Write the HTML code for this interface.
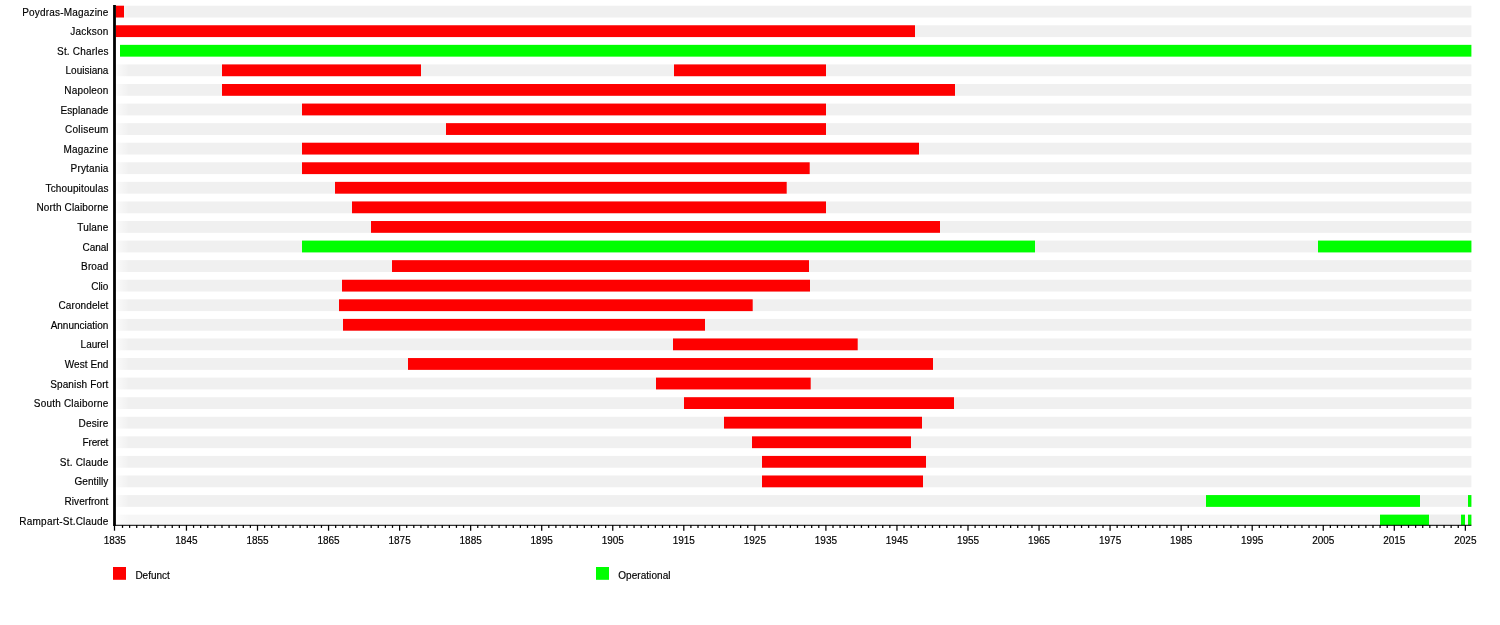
<!DOCTYPE html>
<html lang="en"><head><meta charset="utf-8"><title>New Orleans streetcar lines timeline</title>
<style>html,body{margin:0;padding:0;background:#fff}body{width:1500px;height:625px;overflow:hidden}svg{display:block}text{font-family:"Liberation Sans",Arial,Helvetica,sans-serif;font-size:10px;fill:#000;stroke:#000;stroke-width:0.16px}.l{text-anchor:end}.t{text-anchor:middle}</style></head><body>
<svg width="1500" height="625" viewBox="0 0 1500 625">
<rect width="1500" height="625" fill="#fff"/>
<g fill="#f0f0f0">
<rect x="115" y="5.70" width="1356.4" height="11.8"/>
<rect x="115" y="25.27" width="1356.4" height="11.8"/>
<rect x="115" y="64.42" width="1356.4" height="11.8"/>
<rect x="115" y="84.00" width="1356.4" height="11.8"/>
<rect x="115" y="103.58" width="1356.4" height="11.8"/>
<rect x="115" y="123.15" width="1356.4" height="11.8"/>
<rect x="115" y="142.72" width="1356.4" height="11.8"/>
<rect x="115" y="162.30" width="1356.4" height="11.8"/>
<rect x="115" y="181.87" width="1356.4" height="11.8"/>
<rect x="115" y="201.45" width="1356.4" height="11.8"/>
<rect x="115" y="221.02" width="1356.4" height="11.8"/>
<rect x="115" y="240.60" width="1356.4" height="11.8"/>
<rect x="115" y="260.18" width="1356.4" height="11.8"/>
<rect x="115" y="279.75" width="1356.4" height="11.8"/>
<rect x="115" y="299.32" width="1356.4" height="11.8"/>
<rect x="115" y="318.90" width="1356.4" height="11.8"/>
<rect x="115" y="338.47" width="1356.4" height="11.8"/>
<rect x="115" y="358.05" width="1356.4" height="11.8"/>
<rect x="115" y="377.62" width="1356.4" height="11.8"/>
<rect x="115" y="397.20" width="1356.4" height="11.8"/>
<rect x="115" y="416.77" width="1356.4" height="11.8"/>
<rect x="115" y="436.35" width="1356.4" height="11.8"/>
<rect x="115" y="455.92" width="1356.4" height="11.8"/>
<rect x="115" y="475.50" width="1356.4" height="11.8"/>
<rect x="115" y="495.07" width="1356.4" height="11.8"/>
<rect x="115" y="514.65" width="1356.4" height="10.65" fill="#f6f6f6"/>
</g>
<defs><linearGradient id="fade" x1="0" y1="0" x2="1" y2="0"><stop offset="0" stop-color="#fff" stop-opacity="0.85"/><stop offset="0.35" stop-color="#fff" stop-opacity="0.45"/><stop offset="1" stop-color="#fff" stop-opacity="0"/></linearGradient></defs>
<rect x="115.9" y="0" width="13" height="524.8" fill="url(#fade)"/>
<rect x="1429" y="514.65" width="32" height="10.65" fill="#eeeeee"/>
<rect x="115.8" y="5.70" width="8.2" height="11.8" fill="#fe0000"/>
<rect x="115.8" y="25.27" width="799.2" height="11.8" fill="#fe0000"/>
<rect x="120" y="44.85" width="1351.4" height="11.8" fill="#00fe00"/>
<rect x="222" y="64.42" width="199" height="11.8" fill="#fe0000"/>
<rect x="674" y="64.42" width="152" height="11.8" fill="#fe0000"/>
<rect x="222" y="84.00" width="733" height="11.8" fill="#fe0000"/>
<rect x="302" y="103.58" width="524" height="11.8" fill="#fe0000"/>
<rect x="446" y="123.15" width="380" height="11.8" fill="#fe0000"/>
<rect x="302" y="142.72" width="617" height="11.8" fill="#fe0000"/>
<rect x="302" y="162.30" width="507.7" height="11.8" fill="#fe0000"/>
<rect x="335" y="181.87" width="451.7" height="11.8" fill="#fe0000"/>
<rect x="352" y="201.45" width="474" height="11.8" fill="#fe0000"/>
<rect x="371" y="221.02" width="569" height="11.8" fill="#fe0000"/>
<rect x="302" y="240.60" width="733" height="11.8" fill="#00fe00"/>
<rect x="1318" y="240.60" width="153.4" height="11.8" fill="#00fe00"/>
<rect x="392" y="260.18" width="417" height="11.8" fill="#fe0000"/>
<rect x="342" y="279.75" width="468" height="11.8" fill="#fe0000"/>
<rect x="339" y="299.32" width="413.7" height="11.8" fill="#fe0000"/>
<rect x="343" y="318.90" width="362" height="11.8" fill="#fe0000"/>
<rect x="673" y="338.47" width="184.7" height="11.8" fill="#fe0000"/>
<rect x="408" y="358.05" width="525" height="11.8" fill="#fe0000"/>
<rect x="656" y="377.62" width="154.7" height="11.8" fill="#fe0000"/>
<rect x="684" y="397.20" width="270" height="11.8" fill="#fe0000"/>
<rect x="724" y="416.77" width="198" height="11.8" fill="#fe0000"/>
<rect x="752" y="436.35" width="159" height="11.8" fill="#fe0000"/>
<rect x="762" y="455.92" width="164" height="11.8" fill="#fe0000"/>
<rect x="762" y="475.50" width="161" height="11.8" fill="#fe0000"/>
<rect x="1206" y="495.07" width="214" height="11.8" fill="#00fe00"/>
<rect x="1468" y="495.07" width="3.4" height="11.8" fill="#00fe00"/>
<rect x="1380" y="514.65" width="49" height="10.65" fill="#00fe00"/>
<rect x="1461" y="514.65" width="4" height="10.65" fill="#00fe00"/>
<rect x="1468" y="514.65" width="3.4" height="10.65" fill="#00fe00"/>
<rect x="113.1" y="5" width="2.8" height="520.8" fill="#000"/>
<rect x="113.2" y="524.8" width="1358.2" height="1" fill="#000"/>
<g stroke="#000" stroke-width="1.25">
<line x1="114.50" y1="525" x2="114.50" y2="530.70"/>
<line x1="122.51" y1="525" x2="122.51" y2="527.90"/>
<line x1="129.61" y1="525" x2="129.61" y2="527.90"/>
<line x1="136.72" y1="525" x2="136.72" y2="527.90"/>
<line x1="143.82" y1="525" x2="143.82" y2="527.90"/>
<line x1="150.93" y1="525" x2="150.93" y2="527.90"/>
<line x1="158.03" y1="525" x2="158.03" y2="527.90"/>
<line x1="165.13" y1="525" x2="165.13" y2="527.90"/>
<line x1="172.24" y1="525" x2="172.24" y2="527.90"/>
<line x1="179.35" y1="525" x2="179.35" y2="527.90"/>
<line x1="186.45" y1="525" x2="186.45" y2="530.70"/>
<line x1="193.56" y1="525" x2="193.56" y2="527.90"/>
<line x1="200.66" y1="525" x2="200.66" y2="527.90"/>
<line x1="207.77" y1="525" x2="207.77" y2="527.90"/>
<line x1="214.87" y1="525" x2="214.87" y2="527.90"/>
<line x1="221.98" y1="525" x2="221.98" y2="527.90"/>
<line x1="229.08" y1="525" x2="229.08" y2="527.90"/>
<line x1="236.19" y1="525" x2="236.19" y2="527.90"/>
<line x1="243.29" y1="525" x2="243.29" y2="527.90"/>
<line x1="250.40" y1="525" x2="250.40" y2="527.90"/>
<line x1="257.50" y1="525" x2="257.50" y2="530.70"/>
<line x1="264.61" y1="525" x2="264.61" y2="527.90"/>
<line x1="271.71" y1="525" x2="271.71" y2="527.90"/>
<line x1="278.82" y1="525" x2="278.82" y2="527.90"/>
<line x1="285.92" y1="525" x2="285.92" y2="527.90"/>
<line x1="293.02" y1="525" x2="293.02" y2="527.90"/>
<line x1="300.13" y1="525" x2="300.13" y2="527.90"/>
<line x1="307.24" y1="525" x2="307.24" y2="527.90"/>
<line x1="314.34" y1="525" x2="314.34" y2="527.90"/>
<line x1="321.45" y1="525" x2="321.45" y2="527.90"/>
<line x1="328.55" y1="525" x2="328.55" y2="530.70"/>
<line x1="335.66" y1="525" x2="335.66" y2="527.90"/>
<line x1="342.76" y1="525" x2="342.76" y2="527.90"/>
<line x1="349.87" y1="525" x2="349.87" y2="527.90"/>
<line x1="356.97" y1="525" x2="356.97" y2="527.90"/>
<line x1="364.08" y1="525" x2="364.08" y2="527.90"/>
<line x1="371.18" y1="525" x2="371.18" y2="527.90"/>
<line x1="378.28" y1="525" x2="378.28" y2="527.90"/>
<line x1="385.39" y1="525" x2="385.39" y2="527.90"/>
<line x1="392.50" y1="525" x2="392.50" y2="527.90"/>
<line x1="399.60" y1="525" x2="399.60" y2="530.70"/>
<line x1="406.71" y1="525" x2="406.71" y2="527.90"/>
<line x1="413.81" y1="525" x2="413.81" y2="527.90"/>
<line x1="420.92" y1="525" x2="420.92" y2="527.90"/>
<line x1="428.02" y1="525" x2="428.02" y2="527.90"/>
<line x1="435.12" y1="525" x2="435.12" y2="527.90"/>
<line x1="442.23" y1="525" x2="442.23" y2="527.90"/>
<line x1="449.34" y1="525" x2="449.34" y2="527.90"/>
<line x1="456.44" y1="525" x2="456.44" y2="527.90"/>
<line x1="463.55" y1="525" x2="463.55" y2="527.90"/>
<line x1="470.65" y1="525" x2="470.65" y2="530.70"/>
<line x1="477.75" y1="525" x2="477.75" y2="527.90"/>
<line x1="484.86" y1="525" x2="484.86" y2="527.90"/>
<line x1="491.97" y1="525" x2="491.97" y2="527.90"/>
<line x1="499.07" y1="525" x2="499.07" y2="527.90"/>
<line x1="506.18" y1="525" x2="506.18" y2="527.90"/>
<line x1="513.28" y1="525" x2="513.28" y2="527.90"/>
<line x1="520.38" y1="525" x2="520.38" y2="527.90"/>
<line x1="527.49" y1="525" x2="527.49" y2="527.90"/>
<line x1="534.60" y1="525" x2="534.60" y2="527.90"/>
<line x1="541.70" y1="525" x2="541.70" y2="530.70"/>
<line x1="548.81" y1="525" x2="548.81" y2="527.90"/>
<line x1="555.91" y1="525" x2="555.91" y2="527.90"/>
<line x1="563.01" y1="525" x2="563.01" y2="527.90"/>
<line x1="570.12" y1="525" x2="570.12" y2="527.90"/>
<line x1="577.23" y1="525" x2="577.23" y2="527.90"/>
<line x1="584.33" y1="525" x2="584.33" y2="527.90"/>
<line x1="591.44" y1="525" x2="591.44" y2="527.90"/>
<line x1="598.54" y1="525" x2="598.54" y2="527.90"/>
<line x1="605.64" y1="525" x2="605.64" y2="527.90"/>
<line x1="612.75" y1="525" x2="612.75" y2="530.70"/>
<line x1="619.86" y1="525" x2="619.86" y2="527.90"/>
<line x1="626.96" y1="525" x2="626.96" y2="527.90"/>
<line x1="634.07" y1="525" x2="634.07" y2="527.90"/>
<line x1="641.17" y1="525" x2="641.17" y2="527.90"/>
<line x1="648.27" y1="525" x2="648.27" y2="527.90"/>
<line x1="655.38" y1="525" x2="655.38" y2="527.90"/>
<line x1="662.49" y1="525" x2="662.49" y2="527.90"/>
<line x1="669.59" y1="525" x2="669.59" y2="527.90"/>
<line x1="676.70" y1="525" x2="676.70" y2="527.90"/>
<line x1="683.80" y1="525" x2="683.80" y2="530.70"/>
<line x1="690.90" y1="525" x2="690.90" y2="527.90"/>
<line x1="698.01" y1="525" x2="698.01" y2="527.90"/>
<line x1="705.12" y1="525" x2="705.12" y2="527.90"/>
<line x1="712.22" y1="525" x2="712.22" y2="527.90"/>
<line x1="719.33" y1="525" x2="719.33" y2="527.90"/>
<line x1="726.43" y1="525" x2="726.43" y2="527.90"/>
<line x1="733.53" y1="525" x2="733.53" y2="527.90"/>
<line x1="740.64" y1="525" x2="740.64" y2="527.90"/>
<line x1="747.75" y1="525" x2="747.75" y2="527.90"/>
<line x1="754.85" y1="525" x2="754.85" y2="530.70"/>
<line x1="761.96" y1="525" x2="761.96" y2="527.90"/>
<line x1="769.06" y1="525" x2="769.06" y2="527.90"/>
<line x1="776.16" y1="525" x2="776.16" y2="527.90"/>
<line x1="783.27" y1="525" x2="783.27" y2="527.90"/>
<line x1="790.38" y1="525" x2="790.38" y2="527.90"/>
<line x1="797.48" y1="525" x2="797.48" y2="527.90"/>
<line x1="804.59" y1="525" x2="804.59" y2="527.90"/>
<line x1="811.69" y1="525" x2="811.69" y2="527.90"/>
<line x1="818.80" y1="525" x2="818.80" y2="527.90"/>
<line x1="825.90" y1="525" x2="825.90" y2="530.70"/>
<line x1="833.00" y1="525" x2="833.00" y2="527.90"/>
<line x1="840.11" y1="525" x2="840.11" y2="527.90"/>
<line x1="847.22" y1="525" x2="847.22" y2="527.90"/>
<line x1="854.32" y1="525" x2="854.32" y2="527.90"/>
<line x1="861.43" y1="525" x2="861.43" y2="527.90"/>
<line x1="868.53" y1="525" x2="868.53" y2="527.90"/>
<line x1="875.63" y1="525" x2="875.63" y2="527.90"/>
<line x1="882.74" y1="525" x2="882.74" y2="527.90"/>
<line x1="889.85" y1="525" x2="889.85" y2="527.90"/>
<line x1="896.95" y1="525" x2="896.95" y2="530.70"/>
<line x1="904.06" y1="525" x2="904.06" y2="527.90"/>
<line x1="911.16" y1="525" x2="911.16" y2="527.90"/>
<line x1="918.26" y1="525" x2="918.26" y2="527.90"/>
<line x1="925.37" y1="525" x2="925.37" y2="527.90"/>
<line x1="932.48" y1="525" x2="932.48" y2="527.90"/>
<line x1="939.58" y1="525" x2="939.58" y2="527.90"/>
<line x1="946.69" y1="525" x2="946.69" y2="527.90"/>
<line x1="953.79" y1="525" x2="953.79" y2="527.90"/>
<line x1="960.89" y1="525" x2="960.89" y2="527.90"/>
<line x1="968.00" y1="525" x2="968.00" y2="530.70"/>
<line x1="975.11" y1="525" x2="975.11" y2="527.90"/>
<line x1="982.21" y1="525" x2="982.21" y2="527.90"/>
<line x1="989.32" y1="525" x2="989.32" y2="527.90"/>
<line x1="996.42" y1="525" x2="996.42" y2="527.90"/>
<line x1="1003.52" y1="525" x2="1003.52" y2="527.90"/>
<line x1="1010.63" y1="525" x2="1010.63" y2="527.90"/>
<line x1="1017.74" y1="525" x2="1017.74" y2="527.90"/>
<line x1="1024.84" y1="525" x2="1024.84" y2="527.90"/>
<line x1="1031.95" y1="525" x2="1031.95" y2="527.90"/>
<line x1="1039.05" y1="525" x2="1039.05" y2="530.70"/>
<line x1="1046.16" y1="525" x2="1046.16" y2="527.90"/>
<line x1="1053.26" y1="525" x2="1053.26" y2="527.90"/>
<line x1="1060.37" y1="525" x2="1060.37" y2="527.90"/>
<line x1="1067.47" y1="525" x2="1067.47" y2="527.90"/>
<line x1="1074.58" y1="525" x2="1074.58" y2="527.90"/>
<line x1="1081.68" y1="525" x2="1081.68" y2="527.90"/>
<line x1="1088.79" y1="525" x2="1088.79" y2="527.90"/>
<line x1="1095.89" y1="525" x2="1095.89" y2="527.90"/>
<line x1="1103.00" y1="525" x2="1103.00" y2="527.90"/>
<line x1="1110.10" y1="525" x2="1110.10" y2="530.70"/>
<line x1="1117.21" y1="525" x2="1117.21" y2="527.90"/>
<line x1="1124.31" y1="525" x2="1124.31" y2="527.90"/>
<line x1="1131.42" y1="525" x2="1131.42" y2="527.90"/>
<line x1="1138.52" y1="525" x2="1138.52" y2="527.90"/>
<line x1="1145.63" y1="525" x2="1145.63" y2="527.90"/>
<line x1="1152.73" y1="525" x2="1152.73" y2="527.90"/>
<line x1="1159.84" y1="525" x2="1159.84" y2="527.90"/>
<line x1="1166.94" y1="525" x2="1166.94" y2="527.90"/>
<line x1="1174.05" y1="525" x2="1174.05" y2="527.90"/>
<line x1="1181.15" y1="525" x2="1181.15" y2="530.70"/>
<line x1="1188.26" y1="525" x2="1188.26" y2="527.90"/>
<line x1="1195.36" y1="525" x2="1195.36" y2="527.90"/>
<line x1="1202.47" y1="525" x2="1202.47" y2="527.90"/>
<line x1="1209.57" y1="525" x2="1209.57" y2="527.90"/>
<line x1="1216.68" y1="525" x2="1216.68" y2="527.90"/>
<line x1="1223.78" y1="525" x2="1223.78" y2="527.90"/>
<line x1="1230.89" y1="525" x2="1230.89" y2="527.90"/>
<line x1="1237.99" y1="525" x2="1237.99" y2="527.90"/>
<line x1="1245.10" y1="525" x2="1245.10" y2="527.90"/>
<line x1="1252.20" y1="525" x2="1252.20" y2="530.70"/>
<line x1="1259.31" y1="525" x2="1259.31" y2="527.90"/>
<line x1="1266.41" y1="525" x2="1266.41" y2="527.90"/>
<line x1="1273.52" y1="525" x2="1273.52" y2="527.90"/>
<line x1="1280.62" y1="525" x2="1280.62" y2="527.90"/>
<line x1="1287.73" y1="525" x2="1287.73" y2="527.90"/>
<line x1="1294.83" y1="525" x2="1294.83" y2="527.90"/>
<line x1="1301.94" y1="525" x2="1301.94" y2="527.90"/>
<line x1="1309.04" y1="525" x2="1309.04" y2="527.90"/>
<line x1="1316.15" y1="525" x2="1316.15" y2="527.90"/>
<line x1="1323.25" y1="525" x2="1323.25" y2="530.70"/>
<line x1="1330.36" y1="525" x2="1330.36" y2="527.90"/>
<line x1="1337.46" y1="525" x2="1337.46" y2="527.90"/>
<line x1="1344.57" y1="525" x2="1344.57" y2="527.90"/>
<line x1="1351.67" y1="525" x2="1351.67" y2="527.90"/>
<line x1="1358.78" y1="525" x2="1358.78" y2="527.90"/>
<line x1="1365.88" y1="525" x2="1365.88" y2="527.90"/>
<line x1="1372.99" y1="525" x2="1372.99" y2="527.90"/>
<line x1="1380.09" y1="525" x2="1380.09" y2="527.90"/>
<line x1="1387.20" y1="525" x2="1387.20" y2="527.90"/>
<line x1="1394.30" y1="525" x2="1394.30" y2="530.70"/>
<line x1="1401.41" y1="525" x2="1401.41" y2="527.90"/>
<line x1="1408.51" y1="525" x2="1408.51" y2="527.90"/>
<line x1="1415.62" y1="525" x2="1415.62" y2="527.90"/>
<line x1="1422.72" y1="525" x2="1422.72" y2="527.90"/>
<line x1="1429.83" y1="525" x2="1429.83" y2="527.90"/>
<line x1="1436.93" y1="525" x2="1436.93" y2="527.90"/>
<line x1="1444.04" y1="525" x2="1444.04" y2="527.90"/>
<line x1="1451.14" y1="525" x2="1451.14" y2="527.90"/>
<line x1="1458.25" y1="525" x2="1458.25" y2="527.90"/>
<line x1="1465.35" y1="525" x2="1465.35" y2="530.70"/>
</g>
<g class="t">
<text x="114.80" y="543.9">1835</text>
<text x="186.45" y="543.9">1845</text>
<text x="257.50" y="543.9">1855</text>
<text x="328.55" y="543.9">1865</text>
<text x="399.60" y="543.9">1875</text>
<text x="470.65" y="543.9">1885</text>
<text x="541.70" y="543.9">1895</text>
<text x="612.75" y="543.9">1905</text>
<text x="683.80" y="543.9">1915</text>
<text x="754.85" y="543.9">1925</text>
<text x="825.90" y="543.9">1935</text>
<text x="896.95" y="543.9">1945</text>
<text x="968.00" y="543.9">1955</text>
<text x="1039.05" y="543.9">1965</text>
<text x="1110.10" y="543.9">1975</text>
<text x="1181.15" y="543.9">1985</text>
<text x="1252.20" y="543.9">1995</text>
<text x="1323.25" y="543.9">2005</text>
<text x="1394.30" y="543.9">2015</text>
<text x="1465.35" y="543.9">2025</text>
</g>
<g class="l">
<text x="108.58" y="16" style="letter-spacing:0.183px">Poydras-Magazine</text>
<text x="108.62" y="35" style="letter-spacing:0.225px">Jackson</text>
<text x="108.59" y="55" style="letter-spacing:0.188px">St. Charles</text>
<text x="108.40" y="74" style="letter-spacing:0.004px">Louisiana</text>
<text x="108.58" y="94" style="letter-spacing:0.178px">Napoleon</text>
<text x="108.49" y="114" style="letter-spacing:0.094px">Esplanade</text>
<text x="108.63" y="133" style="letter-spacing:0.228px">Coliseum</text>
<text x="108.64" y="153" style="letter-spacing:0.236px">Magazine</text>
<text x="108.57" y="172" style="letter-spacing:0.165px">Prytania</text>
<text x="108.55" y="192" style="letter-spacing:0.146px">Tchoupitoulas</text>
<text x="108.53" y="211" style="letter-spacing:0.132px">North Claiborne</text>
<text x="108.60" y="231" style="letter-spacing:0.197px">Tulane</text>
<text x="108.35" y="251" style="letter-spacing:-0.048px">Canal</text>
<text x="108.56" y="270" style="letter-spacing:0.160px">Broad</text>
<text x="108.40" y="290" style="letter-spacing:-0.005px">Clio</text>
<text x="108.52" y="309" style="letter-spacing:0.117px">Carondelet</text>
<text x="108.39" y="329" style="letter-spacing:-0.007px">Annunciation</text>
<text x="108.40" y="348" style="letter-spacing:0.002px">Laurel</text>
<text x="108.48" y="368" style="letter-spacing:0.080px">West End</text>
<text x="108.54" y="388" style="letter-spacing:0.140px">Spanish Fort</text>
<text x="108.61" y="407" style="letter-spacing:0.209px">South Claiborne</text>
<text x="108.60" y="427" style="letter-spacing:0.200px">Desire</text>
<text x="108.24" y="446" style="letter-spacing:-0.160px">Freret</text>
<text x="108.60" y="466" style="letter-spacing:0.203px">St. Claude</text>
<text x="108.48" y="485" style="letter-spacing:0.080px">Gentilly</text>
<text x="108.46" y="505" style="letter-spacing:0.058px">Riverfront</text>
<text x="108.62" y="525" style="letter-spacing:0.215px">Rampart-St.Claude</text>
</g>
<rect x="113" y="567" width="13" height="12.8" fill="#fe0000"/>
<text x="135.4" y="579">Defunct</text>
<rect x="596" y="567" width="13" height="12.8" fill="#00fe00"/>
<text x="618.2" y="579" style="letter-spacing:0.06px">Operational</text>
</svg></body></html>
